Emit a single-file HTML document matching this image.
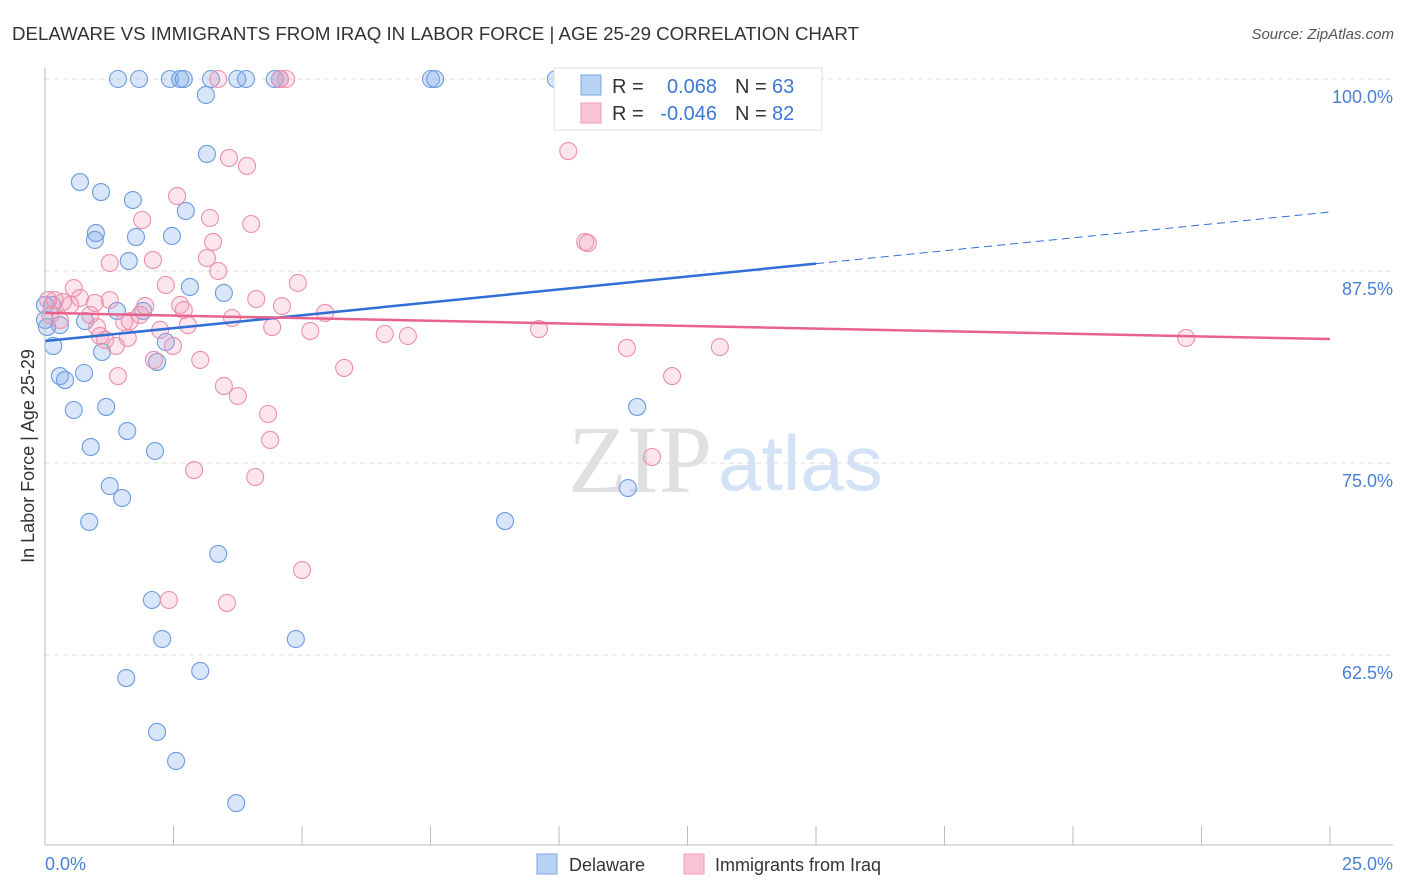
<!DOCTYPE html>
<html><head><meta charset="utf-8"><style>
body{margin:0;background:#fff;font-family:"Liberation Sans",sans-serif;}
#c{position:relative;width:1406px;height:892px;overflow:hidden}
</style></head><body>
<div id="c">
<svg id="s" width="1406" height="892">
<text x="12" y="40" font-size="18.7" fill="#333">DELAWARE VS IMMIGRANTS FROM IRAQ IN LABOR FORCE | AGE 25-29 CORRELATION CHART</text>
<text x="1394" y="39" font-size="15" fill="#555" font-style="italic" text-anchor="end">Source: ZipAtlas.com</text>
<text x="712" y="492" font-size="96" fill="#e0e0e0" text-anchor="end" font-family="Liberation Serif">ZIP</text>
<text x="718" y="490" font-size="78" fill="#d3e2f5">atlas</text>
<g id="grid"></g><g id="ticks"></g><g id="pts"></g><g id="lines"></g>
<line x1="45" y1="68" x2="45" y2="845" stroke="#bbb"/>
<line x1="45" y1="845" x2="1393" y2="845" stroke="#bbb"/>
<text x="34" y="456" font-size="18" fill="#333" text-anchor="middle" transform="rotate(-90 34 456)">In Labor Force | Age 25-29</text>
<text x="45" y="870" font-size="18" fill="#4a7fd4">0.0%</text>
<text x="1393" y="870" font-size="18" fill="#4a7fd4" text-anchor="end">25.0%</text>
<g>
<rect x="554" y="68" width="268" height="62" fill="#fff" stroke="#ddd"/>
<rect x="581" y="75" width="20" height="20" fill="#b8d2f4" stroke="#7aa7e4"/>
<rect x="581" y="103" width="20" height="20" fill="#f9c5d5" stroke="#ee9ab5"/>
<text x="612" y="93" font-size="20" fill="#333">R =</text><text x="717" y="93" font-size="20" fill="#3d78d4" text-anchor="end">0.068</text>
<text x="735" y="93" font-size="20" fill="#333">N =</text><text x="772" y="93" font-size="20" fill="#3d78d4">63</text>
<text x="612" y="120" font-size="20" fill="#333">R =</text><text x="717" y="120" font-size="20" fill="#3d78d4" text-anchor="end">-0.046</text>
<text x="735" y="120" font-size="20" fill="#333">N =</text><text x="772" y="120" font-size="20" fill="#3d78d4">82</text>
</g>
<g><rect x="537" y="854" width="20" height="20" fill="#b8d2f4" stroke="#7aa7e4"/><text x="569" y="871" font-size="18" fill="#333">Delaware</text></g>
<g><rect x="684" y="854" width="20" height="20" fill="#f9c5d5" stroke="#ee9ab5"/><text x="715" y="871" font-size="18" fill="#333">Immigrants from Iraq</text></g>
</svg></div>
<script>
const yTicks=[100,87.5,75,62.5];
const yTickLabels=["100.0%","87.5%","75.0%","62.5%"];
const xTickVals=[0,2.5,5,7.5,10,12.5,15,17.5,20,22.5,25];
const blueX=[1.42,1.83,2.43,2.63,2.70,3.23,3.74,3.91,4.47,4.57,7.51,7.59,9.94,3.13,3.15,0.68,1.09,1.71,2.74,0.99,0.97,1.77,2.47,1.63,2.82,3.48,1.91,1.40,0.78,0.14,0.29,0.04,0.16,1.11,2.35,2.18,0.29,0.39,0.76,0.56,1.19,1.60,0.89,2.14,1.26,1.50,0.86,3.37,2.08,2.28,4.88,3.02,1.58,2.18,2.55,3.72,8.95,11.34,11.52,0,0];
const blueY=[100,100,100,100,100,100,100,100,100,100,100,100,100,98.96,95.12,93.29,92.64,92.12,91.41,89.97,89.52,89.71,89.78,88.15,86.46,86.07,84.90,84.90,84.24,85.29,83.98,83.85,82.62,82.23,82.88,81.58,80.66,80.40,80.86,78.45,78.65,77.08,76.04,75.78,73.50,72.72,71.16,69.08,66.08,63.54,63.54,61.46,61.00,57.49,55.60,52.86,71.22,73.37,78.65,85.29,84.31];
const pinkX=[4.57,4.69,3.37,10.18,3.58,3.93,2.57,1.89,3.21,4.01,3.27,10.51,10.56,1.26,2.10,3.15,3.37,2.35,4.92,0.56,0.06,0.19,0.35,0.49,0.68,0.97,1.26,1.95,2.63,2.70,4.11,4.61,5.45,3.64,2.24,1.54,1.65,2.78,4.42,5.16,6.61,7.06,9.61,1.01,1.07,1.17,1.61,1.38,2.12,2.49,3.02,5.82,11.32,13.13,22.20,1.42,12.20,3.48,3.75,4.34,4.38,2.90,4.09,11.81,5.00,2.41,3.54,0.10,0.29,0.88,1.85];
const pinkY=[100,100,100,95.31,94.86,94.34,92.38,90.82,90.95,90.56,89.39,89.39,89.32,88.02,88.22,88.35,87.50,86.59,86.72,86.39,85.61,85.61,85.48,85.29,85.74,85.42,85.61,85.22,85.29,84.96,85.68,85.22,84.77,84.44,83.66,84.18,84.24,83.98,83.85,83.59,83.40,83.27,83.72,83.85,83.27,83.01,83.14,82.62,81.71,82.62,81.71,81.19,82.49,82.55,83.14,80.66,80.66,80.01,79.36,78.19,76.50,74.54,74.09,75.39,68.03,66.08,65.89,84.64,84.31,84.64,84.64];
const blueTrend=[82.94,91.34], blueSolidEnd=15;
const pinkTrend=[84.77,83.07];
const X=v=>45+v/25*1285, Y=v=>79+(100-v)/12.5*192;
const NS="http://www.w3.org/2000/svg";
function mk(p,t,a){const e=document.createElementNS(NS,t);for(const k in a)e.setAttribute(k,a[k]);p.appendChild(e);return e;}
const g=document.getElementById('grid'),tk=document.getElementById('ticks'),pts=document.getElementById('pts'),ln=document.getElementById('lines');
yTicks.forEach((v,i)=>{
 const l=mk(g,'line',{x1:45,x2:1393,y1:Y(v),y2:Y(v),stroke:'#ddd','stroke-dasharray':'5,4'});
 
 
 const t=mk(g,'text',{x:1393,y:Y(v)+24,'font-size':18,fill:'#4a7fd4','text-anchor':'end'});t.textContent=yTickLabels[i];
 
 
});
xTickVals.forEach(v=>{
 const l=mk(tk,'line',{x1:X(v),x2:X(v),y1:826,y2:845,stroke:'#bbb'});
 
 
});
blueX.forEach((x,i)=>{
 const c=mk(pts,'circle',{cx:X(x),cy:Y(blueY[i]),r:8.5,fill:'rgba(120,165,235,0.28)',stroke:'#6c9be0','stroke-width':1.1});
 
 
});
pinkX.forEach((x,i)=>{
 const c=mk(pts,'circle',{cx:X(x),cy:Y(pinkY[i]),r:8.5,fill:'rgba(245,150,180,0.25)',stroke:'#ec8fad','stroke-width':1.1});
 
 
});
const bAt=x=>blueTrend[0]+(blueTrend[1]-blueTrend[0])*x/25;
let a=mk(ln,'line',{x1:X(0),y1:Y(bAt(0)),x2:X(blueSolidEnd),y2:Y(bAt(blueSolidEnd)),stroke:'#2f6fd6','stroke-width':2.5});


a=mk(ln,'line',{x1:X(blueSolidEnd),y1:Y(bAt(blueSolidEnd)),x2:X(25),y2:Y(bAt(25)),stroke:'#2f6fd6','stroke-width':1,'stroke-dasharray':'8,5'});


a=mk(ln,'line',{x1:X(0),y1:Y(pinkTrend[0]),x2:X(25),y2:Y(pinkTrend[1]),stroke:'#e8628e','stroke-width':2.5});


</script>
</body></html>
